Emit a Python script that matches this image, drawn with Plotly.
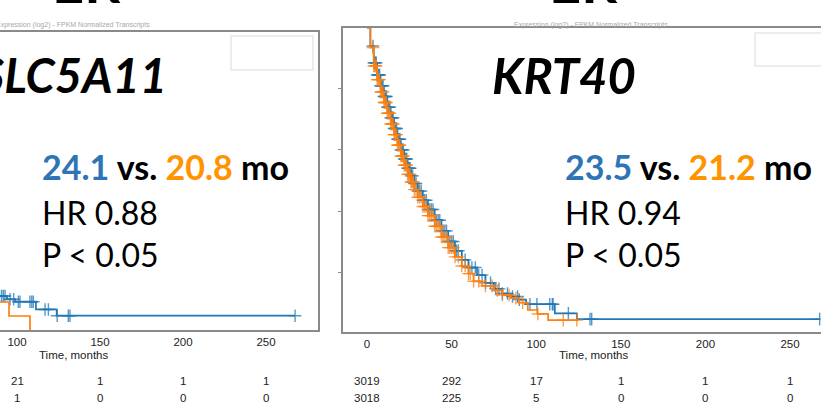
import numpy as np
import plotly.graph_objects as go

W, H = 821, 412

# ---------------- data ----------------
# Left panel (SLC5A11) - only the visible part (t >= ~85 months)
left_blue_t = [85, 94, 99, 111.4, 123.9, 267.5]
left_blue_s = [0.114, 0.103, 0.095, 0.069, 0.048, 0.048]
left_blue_cens = [88.5, 89.5, 90.8, 91.8, 92.8, 95.8, 98, 100.8, 101.8, 107.8, 108.9, 109.8,
                  116.9, 118.9, 124.2, 130.9, 131.9, 267.5]
left_orange_t = [85, 95.2, 107.8, 107.8]
left_orange_s = [0.094, 0.047, 0.047, 0.0]
left_orange_cens = []

left_risk_times = [100, 150, 200, 250]
left_risk_blue = [21, 1, 1, 1]
left_risk_orange = [1, 0, 0, 0]

# Right panel (KRT40)
right_blue_t = [0, 2, 4, 6, 8, 10, 12, 14, 16, 18, 20, 22, 24, 26, 28, 30, 33, 36, 40,
                44, 48, 52, 56, 60, 65, 70, 75, 80, 85, 90, 94, 111, 124, 267.5]
right_blue_s = [1.0, 0.94, 0.885, 0.845, 0.81, 0.775, 0.74, 0.705, 0.67, 0.635, 0.60,
                0.57, 0.54, 0.515, 0.49, 0.465, 0.435, 0.405, 0.37, 0.335, 0.30, 0.27,
                0.24, 0.215, 0.19, 0.165, 0.145, 0.13, 0.12, 0.11, 0.095, 0.065, 0.046, 0.046]
right_orange_t = [0, 2, 4, 6, 8, 10, 12, 14, 16, 18, 20, 22, 24, 26, 28, 30, 33, 36, 40,
                  44, 48, 52, 56, 60, 63, 68, 75, 80, 85, 90, 95, 100.6, 107, 125]
right_orange_s = [1.0, 0.935, 0.875, 0.83, 0.79, 0.755, 0.72, 0.685, 0.65, 0.615, 0.58,
                  0.55, 0.52, 0.495, 0.47, 0.445, 0.415, 0.385, 0.35, 0.315, 0.28, 0.25,
                  0.22, 0.195, 0.17, 0.155, 0.14, 0.125, 0.115, 0.10, 0.076, 0.063, 0.043, 0.043]
right_blue_cens = [3.5, 4, 4.5, 5, 5.5, 6, 6.5, 7, 7.5, 8, 8.5, 9, 9.5, 10, 10.5, 11, 11.5,
                   12, 12.5, 13, 13.5, 14, 14.5, 15, 15.5, 16, 16.5, 17, 17.5, 18, 18.5, 19,
                   19.5, 20, 20.5, 21, 21.5, 22, 22.5, 23, 23.5, 24, 24.5, 25, 25.5, 26, 27,
                   28, 29, 30, 31, 32, 33, 34, 35, 36, 37, 38, 39, 40, 41, 42, 43, 44, 45,
                   46, 47, 48, 49, 50, 51, 52, 53, 54, 56, 58, 60, 62, 64, 66, 68, 70, 73,
                   76, 78, 80, 83, 86, 89, 90, 96.3, 100.4, 108, 109.5, 110, 119, 131.8,
                   132.8, 267.5]
right_orange_cens = [3.5, 4, 4.5, 5, 5.5, 6, 6.5, 7, 7.5, 8, 8.5, 9, 9.5, 10, 10.5, 11, 11.5,
                     12, 12.5, 13, 13.5, 14, 14.5, 15, 15.5, 16, 16.5, 17, 17.5, 18, 18.5,
                     19, 19.5, 20, 20.5, 21, 21.5, 22, 22.5, 23, 23.5, 24, 24.5, 25, 25.5,
                     26, 26.5, 27, 27.5, 28, 29, 30, 31, 32, 33, 34, 35, 36, 37, 38, 39, 40,
                     41, 42, 43, 44, 45, 46, 47, 48, 49, 50, 51, 52, 54, 56, 58, 60, 61, 63,
                     66, 70, 74, 77, 80, 84, 88, 92, 101, 116, 124]
right_risk_times = [0, 50, 100, 150, 200, 250]
right_risk_blue = [3019, 292, 17, 1, 1, 1]
right_risk_orange = [3018, 225, 5, 0, 0, 0]

tick_vals = [0, 50, 100, 150, 200, 250]

BLUE = "#1f77b4"
ORANGE = "#ff7f0e"
TXT_BLUE = "#2E75B6"
TXT_ORANGE = "#FF9300"


def step_val(ts, ss, t):
    ts = np.asarray(ts); ss = np.asarray(ss)
    i = np.searchsorted(ts, t, side="right") - 1
    i = np.clip(i, 0, len(ss) - 1)
    return ss[i]


def px(x):
    return x / W


def py(y):
    return 1 - y / H


fig = go.Figure()


def add_curve(t, s, cens, color, xa, ya):
    fig.add_trace(go.Scatter(x=t, y=s, mode="lines", line=dict(color=color, width=1.7, shape="hv"),
                             xaxis=xa, yaxis=ya, showlegend=False, hoverinfo="skip"))
    if len(cens):
        cy = [step_val(t, s, c) for c in cens]
        fig.add_trace(go.Scatter(x=cens, y=cy, mode="markers",
                                 marker=dict(symbol="cross-thin", size=9, opacity=0.75,
                                             line=dict(color=color, width=1.4)),
                                 xaxis=xa, yaxis=ya, showlegend=False, hoverinfo="skip"))


add_curve(left_blue_t, left_blue_s, left_blue_cens, BLUE, "x", "y")
add_curve(left_orange_t, left_orange_s, left_orange_cens, ORANGE, "x", "y")
add_curve(right_blue_t, right_blue_s, right_blue_cens, BLUE, "x2", "y2")
add_curve(right_orange_t, right_orange_s, right_orange_cens, ORANGE, "x2", "y2")

AXC = "#8a8a8a"
TICKF = dict(family="Liberation Sans, Arial, sans-serif", size=11.5, color="#222")

fig.update_layout(
    width=W, height=H, margin=dict(l=0, r=0, t=0, b=0),
    paper_bgcolor="white", plot_bgcolor="white", showlegend=False,
    xaxis=dict(domain=[0, px(318)], range=[89.76, 281.3], tickvals=tick_vals,
               showgrid=False, zeroline=False, showline=True, mirror=True,
               linecolor=AXC, linewidth=1.5, ticks="",
               tickfont=TICKF, anchor="y"),
    yaxis=dict(domain=[py(330), py(32)], range=[0, 1.0], side="right",
               showgrid=False, zeroline=False, showline=True, linecolor=AXC, linewidth=1.5,
               showticklabels=False, ticks="", anchor="x"),
    xaxis2=dict(domain=[px(343), 1], range=[-14.18, 268.3], tickvals=tick_vals,
                showgrid=False, zeroline=False, showline=True, mirror=True,
                linecolor=AXC, linewidth=1.5, ticks="",
                tickfont=TICKF, anchor="y2"),
    yaxis2=dict(domain=[py(332), py(28)], range=[0.004, 0.999], side="left",
                showgrid=False, zeroline=False, showline=True, linecolor=AXC, linewidth=1.5,
                tickvals=[0.2, 0.4, 0.6, 0.8], ticks="outside", ticklen=3, tickcolor=AXC,
                showticklabels=False, anchor="x2"),
)

ann = []
FONT = "Lato, 'Open Sans', sans-serif"

# cut-off "ER" headers
for xc in (86, 583):
    ann.append(dict(x=px(xc), y=py(17), xref="paper", yref="paper", xanchor="center",
                    yanchor="bottom", text="<b>ER</b>", showarrow=False,
                    font=dict(family=FONT, size=56, color="black")))

# faint subtitles
for xc in (73, 591):
    ann.append(dict(x=px(xc), y=py(24.5), xref="paper", yref="paper", xanchor="center",
                    yanchor="middle", text="Expression (log2) - FPKM Normalized Transcripts",
                    showarrow=False, font=dict(family="Liberation Sans", size=7, color="#a8a8a8")))

# gene names
ann.append(dict(x=px(169), y=py(75), xref="paper", yref="paper", xanchor="right", yanchor="middle",
                text="<b><i>SLC5A11</i></b>", showarrow=False,
                font=dict(family=FONT, size=47, color="black")))
ann.append(dict(x=px(564), y=py(75), xref="paper", yref="paper", xanchor="center", yanchor="middle",
                text="<b><i>KRT40</i></b>", showarrow=False,
                font=dict(family=FONT, size=49, color="black")))

# stats
stats = [(42, "24.1", "20.8", "0.88"), (565, "23.5", "21.2", "0.94")]
for x0, a, b, hr in stats:
    ann.append(dict(x=px(x0 - 2), y=py(166), xref="paper", yref="paper", xanchor="left", yanchor="middle",
                    text=f"<b><span style='color:{TXT_BLUE}'>{a}</span> vs. "
                         f"<span style='color:{TXT_ORANGE}'>{b}</span> mo</b>",
                    showarrow=False, font=dict(family=FONT, size=34, color="black")))
    ann.append(dict(x=px(x0 - 2), y=py(212), xref="paper", yref="paper", xanchor="left", yanchor="middle",
                    text=f"HR {hr}", showarrow=False, font=dict(family=FONT, size=32, color="black")))
    ann.append(dict(x=px(x0 - 2), y=py(255), xref="paper", yref="paper", xanchor="left", yanchor="middle",
                    text="P &lt; 0.05", showarrow=False, font=dict(family=FONT, size=32, color="black")))

# axis titles
ann.append(dict(x=134, y=py(355), xref="x", yref="paper", xanchor="center", yanchor="middle",
                text="Time, months", showarrow=False, font=TICKF))
ann.append(dict(x=133.6, y=py(355), xref="x2", yref="paper", xanchor="center", yanchor="middle",
                text="Time, months", showarrow=False, font=TICKF))

# numbers at risk
for xr, ts, rb, ro in (("x", left_risk_times, left_risk_blue, left_risk_orange),
                       ("x2", right_risk_times, right_risk_blue, right_risk_orange)):
    for t, b, o in zip(ts, rb, ro):
        ann.append(dict(x=t, y=py(381), xref=xr, yref="paper", xanchor="center", yanchor="middle",
                        text=str(b), showarrow=False, font=TICKF))
        ann.append(dict(x=t, y=py(398), xref=xr, yref="paper", xanchor="center", yanchor="middle",
                        text=str(o), showarrow=False, font=TICKF))

fig.update_layout(annotations=ann)

# faint legend frames
fig.add_shape(type="rect", xref="paper", yref="paper", x0=px(231), x1=px(313), y0=py(70), y1=py(36),
              line=dict(color="#e8e8e8", width=1.5), fillcolor="rgba(0,0,0,0)")
fig.add_shape(type="rect", xref="paper", yref="paper", x0=px(755), x1=px(840), y0=py(66), y1=py(33),
              line=dict(color="#e8e8e8", width=1.5), fillcolor="rgba(0,0,0,0)")

fig.write_html("out.html")
